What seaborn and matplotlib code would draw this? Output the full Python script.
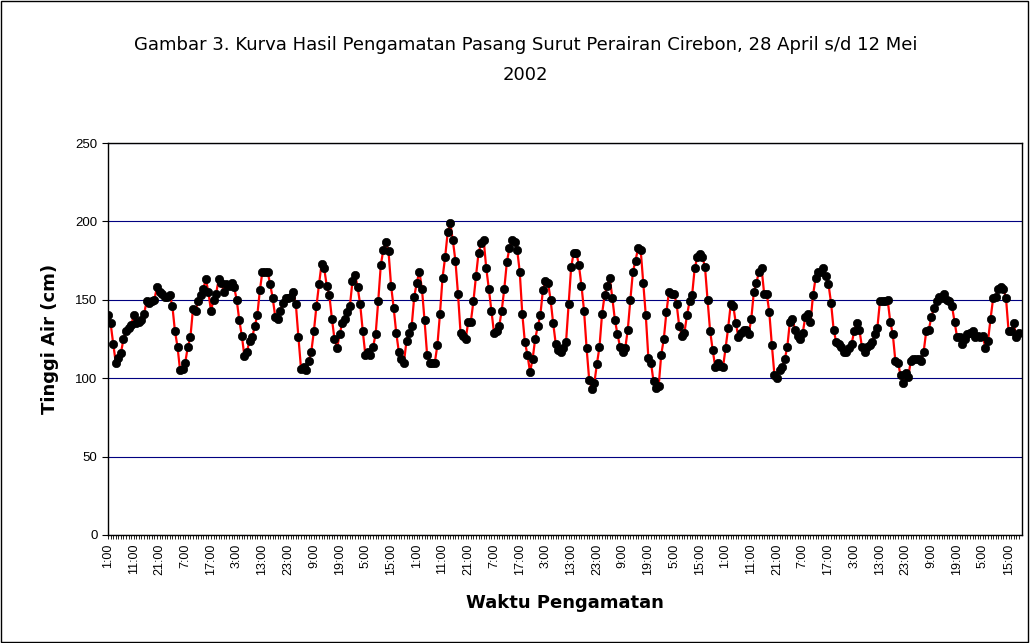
import pandas as pd
import matplotlib.pyplot as plt
import seaborn as sns
from matplotlib.patches import Rectangle

# tinggi air per jam (cm), 28 April 1:00 s/d 12 Mei
tinggi = [
    140, 135, 122, 110, 113, 116, 125, 130, 132, 134, 140, 135, 136, 137, 141, 149, 148, 149, 150, 158,
    155, 154, 152, 152, 153, 146, 130, 120, 105, 106, 110, 120, 126,
    144, 143, 149, 153, 157, 163, 155, 143, 150, 154, 163, 161, 155, 160, 159, 161, 158, 150,
    137, 127, 114, 117, 124, 126, 133, 140, 156, 168, 168, 168, 160, 151, 139,
    138, 143, 148, 151, 151, 152, 155, 147, 126, 106, 107, 105, 111, 117, 130, 146, 160, 173, 170,
    159, 153, 138, 125, 119, 128, 135, 138, 142, 146, 162, 166,
    158, 147, 130, 115, 117, 115, 120, 128, 149, 172, 182, 187, 181, 159, 145, 129, 117, 112, 110,
    124, 129, 133, 152, 161, 168, 157, 137, 115, 110, 110, 110, 121, 141,
    164, 177, 193, 199, 188, 175, 154, 129, 127, 125, 136, 136, 149, 165, 180, 186, 188, 170, 157,
    143, 129, 130, 133, 143, 157, 174, 183, 188, 187, 182, 168, 141, 123, 115,
    104, 112, 125, 133, 140, 156, 162, 161, 150, 135, 122, 118, 117, 119, 123, 147, 171, 180, 180,
    172, 159, 143, 119, 99, 93, 97, 109, 120, 141, 153, 159, 164, 151,
    137, 128, 120, 117, 119, 131, 150, 168, 175, 183, 182, 161, 140, 113, 110, 98, 94, 95, 115, 125,
    142, 155, 154, 154, 147, 133, 127, 129, 140, 149, 153, 170, 177, 179,
    177, 171, 150, 130, 118, 107, 110, 108, 107, 119, 132, 147, 146, 135, 126, 129, 131, 131, 128,
    138, 155, 161, 168, 170, 154, 154, 142, 121, 102, 100, 105, 107, 112,
    120, 136, 138, 131, 127, 125, 129, 139, 141, 136, 153, 164, 168, 168, 170, 165, 160, 148, 131,
    123, 122, 120, 117, 117, 119, 122, 130, 135, 131, 120, 117, 120,
    121, 123, 128, 132, 149, 149, 149, 150, 136, 128, 111, 110, 102, 97, 103, 101, 111, 112, 112,
    112, 111, 117, 130, 131, 139, 145, 149, 152, 151, 154, 150, 149, 146,
    136, 126, 126, 122, 125, 128, 129, 130, 126, 127, 126, 127, 119, 124, 138, 151, 152, 157, 158,
    157, 151, 130, 130, 135, 126, 129,
]
y_ticks = [0, 50, 100, 150, 200, 250]
label_step = 10
jam_mulai = 1

df = pd.DataFrame({"jam": range(len(tinggi)), "tinggi": tinggi})
pos_label = list(range(0, len(tinggi), label_step))
teks_label = [f"{(jam_mulai + p) % 24}:00" for p in pos_label]

sns.set_style("white")
plt.rcParams['font.family'] = ['Liberation Sans', 'DejaVu Sans']
plt.rcParams.update({"text.color": "black", "axes.labelcolor": "black",
                     "xtick.color": "black", "ytick.color": "black"})

fig = plt.figure(figsize=(10.30, 6.43), dpi=100)
ax = fig.add_axes([0.1049, 0.168, 0.8873, 0.6096])

sns.lineplot(data=df, x="jam", y="tinggi", ax=ax, color="red", lw=1.6,
             marker="o", markersize=6, markerfacecolor="black",
             markeredgecolor="black", markeredgewidth=0.5)

ax.set_xlim(0, len(tinggi) + 0.2)
ax.set_ylim(0, 250)
ax.set_yticks(y_ticks)
ax.yaxis.grid(True, color="#000080", lw=0.8)
ax.set_axisbelow(True)

ax.set_xticks(pos_label)
ax.set_xticklabels(teks_label, rotation=90, fontsize=9)
ax.set_xticks(range(len(tinggi)), minor=True)
ax.tick_params(axis="x", which="both", direction="out", length=3, width=0.6, bottom=True, pad=3)
ax.tick_params(axis="y", direction="out", length=4, width=0.8, left=True, labelsize=9.5)

for s in ax.spines.values():
    s.set_color("black")
    s.set_linewidth(1)

ax.set_xlabel("Waktu Pengamatan", fontsize=13, fontweight="bold", family="DejaVu Sans", labelpad=14)
ax.set_ylabel("Tinggi Air (cm)", fontsize=13, fontweight="bold", family="DejaVu Sans", labelpad=12)

fig.text(0.51, 0.93, "Gambar 3. Kurva Hasil Pengamatan Pasang Surut Perairan Cirebon, 28 April s/d 12 Mei",
         ha="center", va="center", fontsize=13, family="DejaVu Sans")
fig.text(0.51, 0.884, "2002", ha="center", va="center", fontsize=13, family="DejaVu Sans")

fig.patches.append(Rectangle((0.001, 0.002), 0.997, 0.996, transform=fig.transFigure,
                             fill=False, ec="black", lw=1))

fig.savefig("out.png", dpi=100)
